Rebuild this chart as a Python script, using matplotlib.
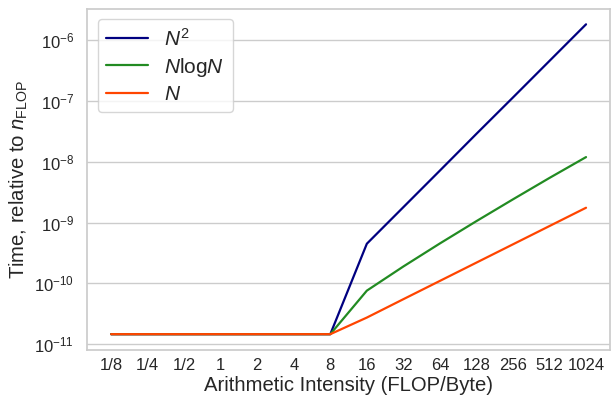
import matplotlib
matplotlib.use("Agg")
import matplotlib.pyplot as plt
import matplotlib.ticker as mticker
import seaborn as sns

sns.set_theme(style="whitegrid")
plt.rcParams['font.family'] = ['Liberation Sans', 'DejaVu Sans']
plt.rcParams['mathtext.fontset'] = 'custom'
plt.rcParams['mathtext.rm'] = 'Liberation Sans'
plt.rcParams['mathtext.it'] = 'Liberation Sans:italic'
plt.rcParams['mathtext.bf'] = 'Liberation Sans:bold'

intensity_labels = ["1/8", "1/4", "1/2", "1", "2", "4", "8",
                    "16", "32", "64", "128", "256", "512", "1024"]

flat = 1.46e-11
time_n2 = [flat, flat, flat, flat, flat, flat, flat,
           4.5e-10, 1.8e-9, 7.2e-9, 2.9e-8, 1.15e-7, 4.6e-7, 1.84e-6]
time_nlogn = [flat, flat, flat, flat, flat, flat, flat,
              7.6e-11, 1.9e-10, 4.55e-10, 1.06e-9, 2.42e-9, 5.45e-9, 1.2e-8]
time_n = [flat, flat, flat, flat, flat, flat, flat,
          2.74e-11, 5.5e-11, 1.1e-10, 2.2e-10, 4.4e-10, 8.8e-10, 1.76e-9]

fig, ax = plt.subplots(figsize=(6.11, 4.01), dpi=100)
x = range(len(intensity_labels))
ax.plot(x, time_n2, color="navy", lw=1.6, label=r"$N^2$")
ax.plot(x, time_nlogn, color="forestgreen", lw=1.6, label=r"$N\mathrm{log}N$")
ax.plot(x, time_n, color="orangered", lw=1.6, label=r"$N$")
ax.set_yscale("log")
ax.set_yticks([1e-11, 1e-10, 1e-9, 1e-8, 1e-7, 1e-6])
ax.yaxis.set_minor_formatter(mticker.NullFormatter())
ax.set_xticks(list(x))
ax.set_xticklabels(intensity_labels)
ax.tick_params(axis="both", labelsize=12)
ax.tick_params(axis="x", length=0, pad=6)
ax.xaxis.grid(False)
ax.set_xlabel("Arithmetic Intensity (FLOP/Byte)", fontsize=14.6, labelpad=2)
ax.set_ylabel(r"Time, relative to $n_{\rm FLOP}$", fontsize=14.6, labelpad=3)
ax.legend(loc="upper left", fontsize=15, labelspacing=0.3)
fig.subplots_adjust(left=0.143, right=0.998, top=0.978, bottom=0.128)
fig.savefig("out.png", dpi=100)
